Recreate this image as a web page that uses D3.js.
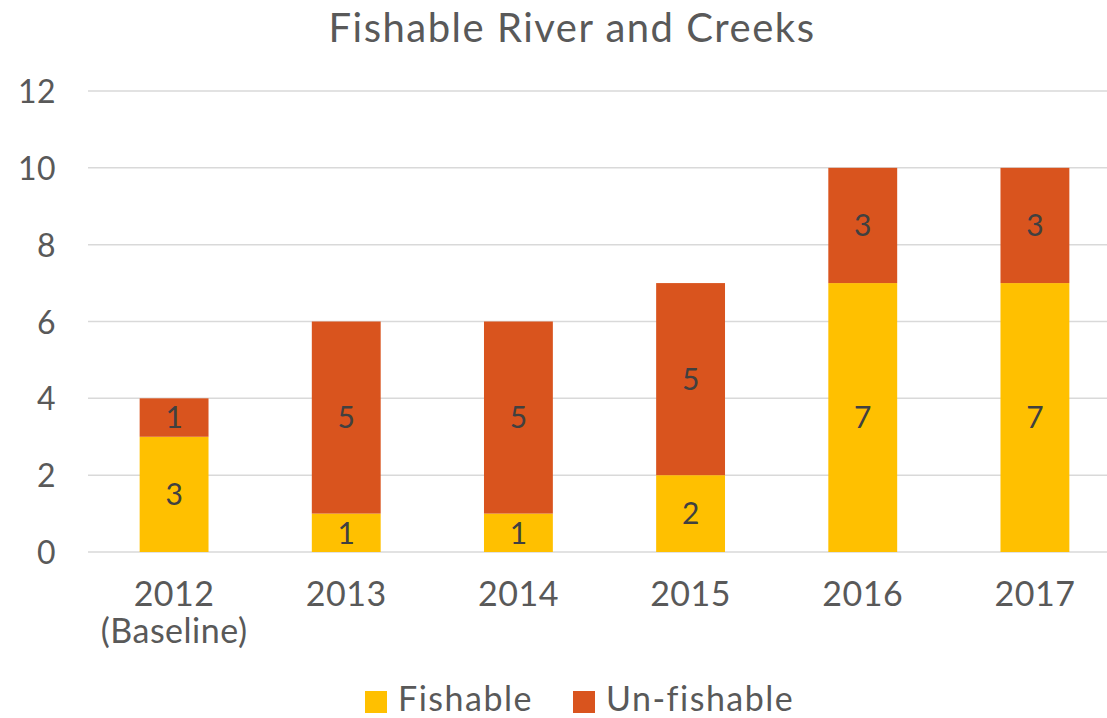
<!DOCTYPE html>
<html><head><meta charset="utf-8">
<script src="https://cdn.jsdelivr.net/npm/d3@7"></script>
<style>
html,body{margin:0;padding:0;background:#fff;}
svg{display:block;font-family:Lato, "Open Sans", sans-serif;}
</style></head>
<body>
<svg id="chart" width="1107" height="718"></svg>
<script>
const categories = ["2012|(Baseline)", "2013", "2014", "2015", "2016", "2017"];
const fishable = [3, 1, 1, 2, 7, 7];
const unfishable = [1, 5, 5, 5, 3, 3];
const seriesNames = ["Fishable", "Un-fishable"];
const seriesColors = ["#FFC000", "#D9541E"];
const yTicks = [0, 2, 4, 6, 8, 10, 12];
const title = "Fishable River and Creeks";

const svg = d3.select("#chart");
const W = 1107, H = 718;
const x = d3.scaleBand().domain(categories).range([88, 1121]).paddingInner(0.6).paddingOuter(0.3);
const y = d3.scaleLinear().domain([0, 12]).range([552, 91]);

// gridlines
svg.append("g").selectAll("line").data(yTicks).join("line")
  .attr("x1", 88).attr("x2", W).attr("y1", d => y(d)).attr("y2", d => y(d))
  .attr("stroke", "#d9d9d9").attr("stroke-width", 1.5);

// y axis labels via axis
const yAxis = svg.append("g").attr("transform", "translate(62,0)")
  .call(d3.axisLeft(y).tickValues(yTicks).tickSize(0).tickPadding(6));
yAxis.select(".domain").remove();
yAxis.selectAll("text").attr("font-size", 32).attr("fill", "#595959")
  .attr("font-family", "Lato, sans-serif").attr("dy", "0.36em").attr("letter-spacing", 0.5);

// stack
const rows = categories.map((c, i) => ({cat: c, Fishable: fishable[i], "Un-fishable": unfishable[i]}));
const stack = d3.stack().keys(seriesNames)(rows);
const g = svg.append("g");
stack.forEach((layer, li) => {
  g.append("g").selectAll("rect").data(layer).join("rect")
    .attr("x", d => x(d.data.cat)).attr("width", x.bandwidth())
    .attr("y", d => y(d[1])).attr("height", d => y(d[0]) - y(d[1]))
    .attr("fill", seriesColors[li]);
  g.append("g").selectAll("text").data(layer).join("text")
    .attr("x", d => x(d.data.cat) + x.bandwidth() / 2)
    .attr("y", d => (y(d[0]) + y(d[1])) / 2)
    .attr("text-anchor", "middle").attr("dy", "0.36em")
    .attr("font-size", 30).attr("fill", "#404040")
    .text(d => d[1] - d[0]);
});

// x axis labels
const xAxis = svg.append("g").attr("transform", "translate(0,552)")
  .call(d3.axisBottom(x).tickSize(0).tickPadding(0));
xAxis.select(".domain").remove();
xAxis.selectAll(".tick text").each(function(d) {
  const t = d3.select(this).text(null).attr("fill", "#595959").attr("font-size", 34)
    .attr("font-family", "Lato, sans-serif").attr("dy", null).attr("letter-spacing", 0.5);
  d.split("|").forEach((s, i) => {
    t.append("tspan").attr("x", 0).attr("y", 54 + i * 37).text(s);
  });
});

// title
svg.append("text").attr("x", 572).attr("y", 42).attr("text-anchor", "middle")
  .attr("font-size", 40).attr("letter-spacing", 1.5).attr("fill", "#595959").text(title);

// legend
const legX = [365, 573];
seriesNames.forEach((n, i) => {
  svg.append("rect").attr("x", legX[i]).attr("y", 691).attr("width", 22).attr("height", 22)
    .attr("fill", seriesColors[i]);
  svg.append("text").attr("x", legX[i] + 33).attr("y", 711).attr("font-size", 34)
    .attr("letter-spacing", 1.5).attr("fill", "#595959").text(n);
});
</script>
</body></html>
